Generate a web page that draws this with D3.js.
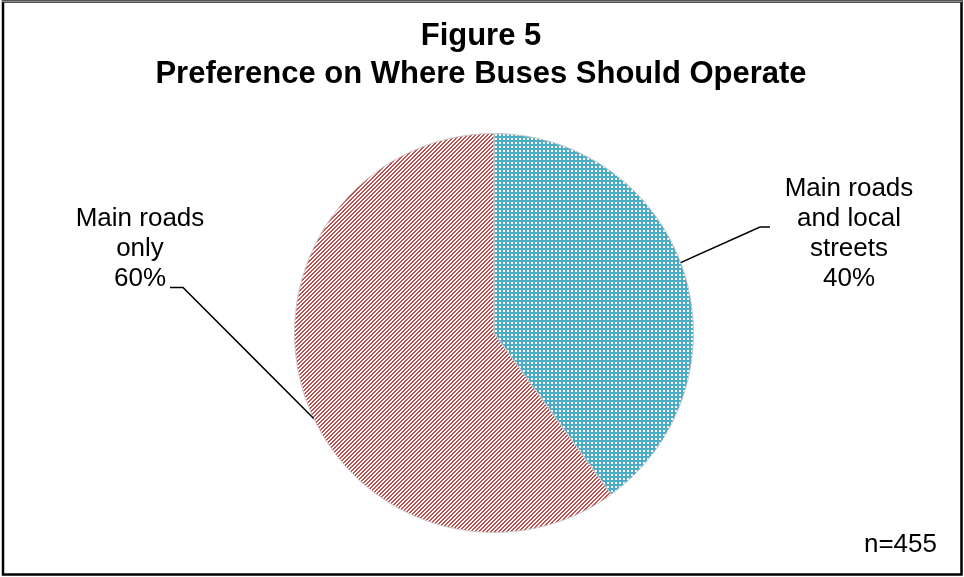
<!DOCTYPE html>
<html>
<head>
<meta charset="utf-8">
<script src="https://cdn.jsdelivr.net/npm/d3@7"></script>
<style>
  html, body { margin: 0; padding: 0; background: #fff; }
  #wrap { position: relative; width: 964px; height: 577px; }
  #wrap canvas, #wrap svg { position: absolute; left: 0; top: 0; display: block; }
  svg { font-family: "Liberation Sans", Arial, sans-serif; }
</style>
</head>
<body>
<div id="wrap">
  <canvas id="fills" width="964" height="577"></canvas>
  <svg id="chart" width="964" height="577"></svg>
</div>
<script>
// Survey answers: where buses should operate
const categories = ["Main roads and local streets", "Main roads only"];
const shares = [40, 60];
const labelLines = [["Main roads", "and local", "streets", "40%"], ["Main roads", "only", "60%"]];
const titleLines = ["Figure 5", "Preference on Where Buses Should Operate"];
const sampleNote = "n=455";

const W = 964, H = 577;
const cx = 494, cy = 333, r = 199.5;

const pie = d3.pie().sort(null).value(d => d)(shares);

// Pixel tiles for the slice fills: dotted aqua grid and "/" red hatch
function makeTile(draw) {
  const c = document.createElement("canvas");
  c.width = 4; c.height = 4;
  draw(c.getContext("2d"));
  return c;
}
const dotTile = makeTile(t => {
  t.fillStyle = "#4BACC6"; t.fillRect(0, 0, 4, 4);
  t.fillStyle = "#ffffff"; t.fillRect(1, 1, 2, 2);
});
const hatchTile = makeTile(t => {
  t.fillStyle = "#ffffff"; t.fillRect(0, 0, 4, 4);
  t.fillStyle = "#C0504D";
  for (let y = 0; y < 4; y++) for (let x = 0; x < 4; x++) {
    if ((x + y) % 4 >= 2) t.fillRect(x, y, 1, 1);
  }
});

// Slice fills on canvas through d3.arc
const ctx = document.getElementById("fills").getContext("2d");
const tiles = [dotTile, hatchTile];
ctx.save();
ctx.translate(cx, cy);
const arcCtx = d3.arc().innerRadius(0).outerRadius(r).context(ctx);
pie.forEach((d, i) => {
  ctx.beginPath();
  arcCtx(d);
  ctx.closePath();
  ctx.fillStyle = ctx.createPattern(tiles[i], "repeat");
  ctx.fill();
});
ctx.restore();

const svg = d3.select("#chart");

// Outer frame
svg.append("rect").attr("x", 3).attr("y", 1.5).attr("width", W - 5.5).attr("height", H - 4)
  .attr("fill", "none").attr("stroke", "#000").attr("stroke-width", 2.5);
svg.append("line").attr("x1", 2).attr("x2", W - 2).attr("y1", 1.5).attr("y2", 1.5)
  .attr("stroke", "#8c8c8c").attr("stroke-width", 1.5);

// Title
const title = svg.append("text").attr("text-anchor", "middle")
  .attr("font-weight", "bold").attr("font-size", 31).attr("fill", "#000");
titleLines.forEach((t, i) => {
  title.append("tspan").attr("x", 481).attr("y", 45 + i * 38).text(t);
});

// Slice outlines
const arc = d3.arc().innerRadius(0).outerRadius(r);
const g = svg.append("g").attr("transform", `translate(${cx},${cy})`);
g.selectAll("path.slice").data(pie).join("path")
  .attr("class", "slice")
  .attr("d", arc)
  .attr("fill", "none")
  .attr("stroke", "#c8c8c8")
  .attr("stroke-width", 1);

// Leader lines from the slice edge to each label
const edgePt = (ang) => [cx + r * Math.sin(ang), cy - r * Math.cos(ang)];
const leaders = [
  { ang: 1.21, elbow: [760, 227], end: [770, 227] },
  { ang: 4.27, elbow: [183, 287.5], end: [170, 287.5] }
];
leaders.forEach(l => {
  const p = edgePt(l.ang);
  svg.append("polyline")
    .attr("points", [p, l.elbow, l.end].map(q => q.join(",")).join(" "))
    .attr("fill", "none").attr("stroke", "#000").attr("stroke-width", 1.5);
});

// Slice labels
const labelPos = [{ x: 849, y: 196 }, { x: 140, y: 226 }];
labelLines.forEach((lines, i) => {
  const t = svg.append("text").attr("text-anchor", "middle")
    .attr("font-size", 26).attr("fill", "#000");
  lines.forEach((s, j) => {
    t.append("tspan").attr("x", labelPos[i].x).attr("y", labelPos[i].y + j * 30).text(s);
  });
});

// Sample size note
svg.append("text").attr("x", 937).attr("y", 552).attr("text-anchor", "end")
  .attr("font-size", 26).attr("fill", "#000").text(sampleNote);
</script>
</body>
</html>
